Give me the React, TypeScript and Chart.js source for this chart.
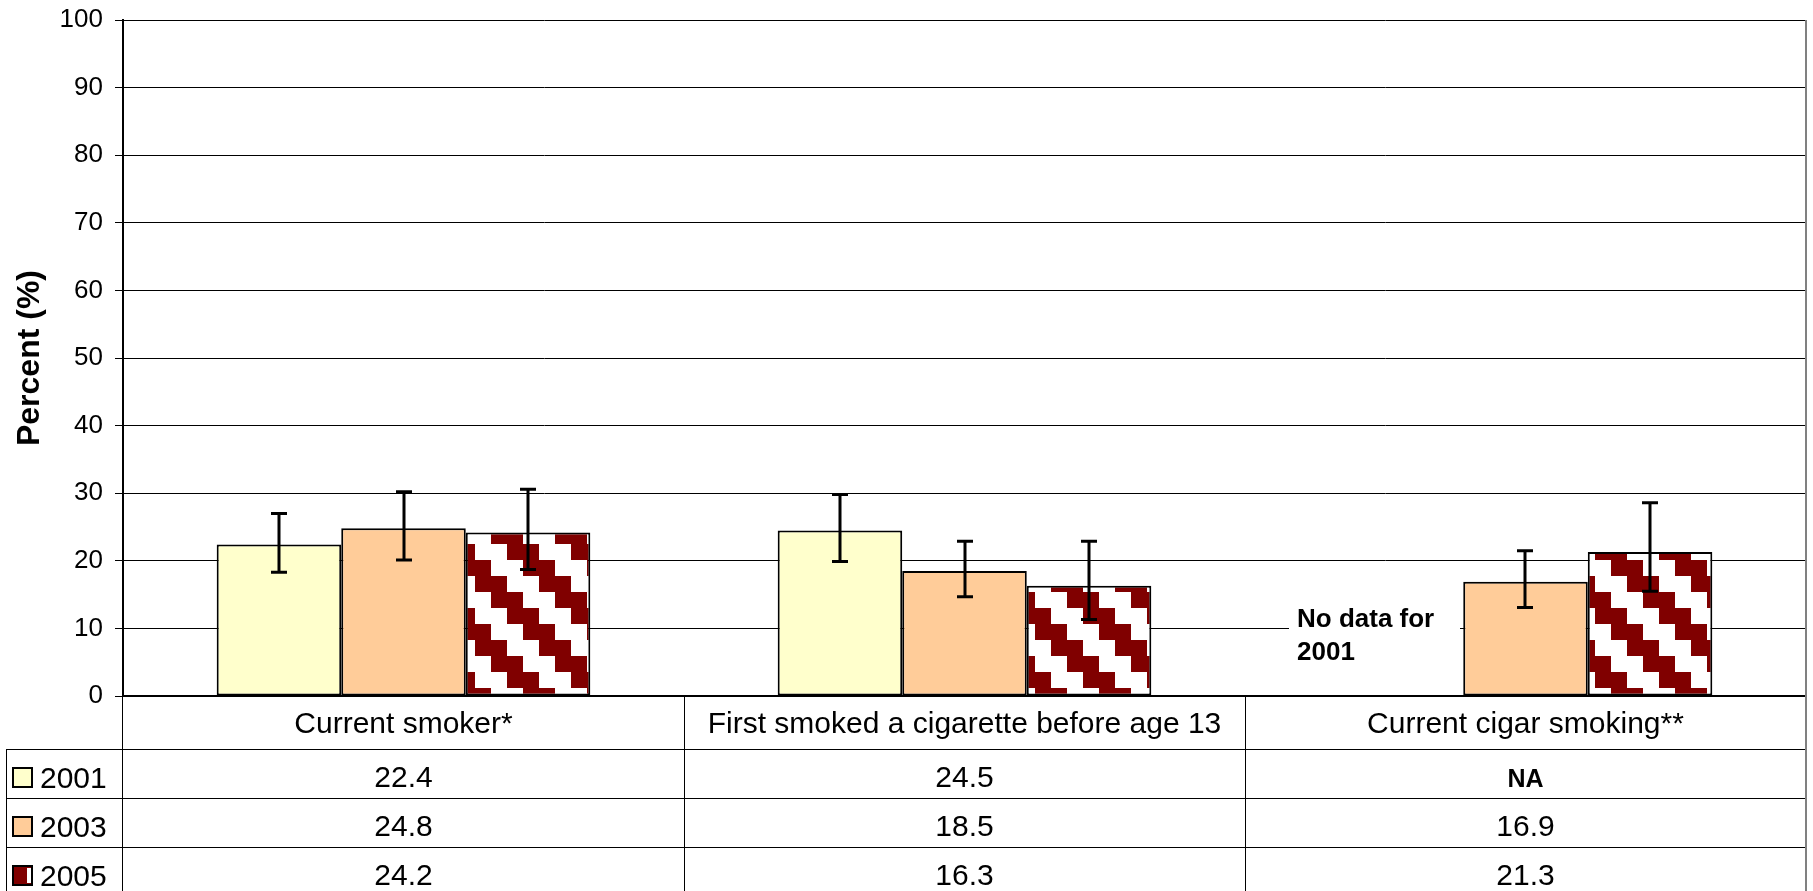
import React, { useEffect, useRef } from 'react';
import { Chart, registerables } from 'chart.js';

Chart.register(...registerables);

const FONT = 'Arial, "Liberation Sans", sans-serif';

const categories = ['Current smoker*', 'First smoked a cigarette before age 13', 'Current cigar smoking**'];
const seriesLabels = ['2001', '2003', '2005'];
const values2001: (number | null)[] = [22.4, 24.5, null];
const values2003: (number | null)[] = [24.8, 18.5, 16.9];
const values2005: (number | null)[] = [24.2, 16.3, 21.3];
const low2001: (number | null)[] = [18.3, 19.9, null];
const high2001: (number | null)[] = [27.0, 29.8, null];
const low2003: (number | null)[] = [20.1, 14.7, 13.1];
const high2003: (number | null)[] = [30.2, 22.9, 21.5];
const low2005: (number | null)[] = [18.7, 11.3, 15.5];
const high2005: (number | null)[] = [30.6, 22.9, 28.6];
const tableText2001 = ['22.4', '24.5', 'NA'];
const tableText2003 = ['24.8', '18.5', '16.9'];
const tableText2005 = ['24.2', '16.3', '21.3'];
const yTitle = 'Percent (%)';
const noDataNote = ['No data for', '2001'];
const yMin = 0;
const yMax = 100;
const yStep = 10;

const lows = [low2001, low2003, low2005];
const highs = [high2001, high2003, high2005];
const tableRows = [tableText2001, tableText2003, tableText2005];

function makePattern(): CanvasPattern | string {
  const c = document.createElement('canvas');
  c.width = 64;
  c.height = 64;
  const g = c.getContext('2d');
  if (!g) return '#800000';
  g.fillStyle = '#ffffff';
  g.fillRect(0, 0, 64, 64);
  g.fillStyle = '#800000';
  for (let r = 0; r < 4; r++) {
    const x0 = 16 * r;
    g.fillRect(x0, 16 * r, 32, 16);
    if (x0 + 32 > 64) g.fillRect(x0 - 64, 16 * r, 32, 16);
  }
  const p = g.createPattern(c, 'repeat');
  if (!p) return '#800000';
  try {
    p.setTransform(new DOMMatrix().translate(27, 0));
  } catch (e) {
    /* ignore */
  }
  return p;
}

export default function App() {
  const ref = useRef<HTMLCanvasElement | null>(null);

  useEffect(() => {
    document.body.style.margin = '0';
    const canvas = ref.current;
    if (!canvas) return;
    const pattern = makePattern();
    const fills: any[] = ['#FFFFCC', '#FFCC99', pattern];

    const extras = {
      id: 'extras',
      beforeDatasetsDraw(chart: any) {
        const { ctx, chartArea, scales } = chart;
        const xs = scales.x;
        const div = (xs.getPixelForValue(1) + xs.getPixelForValue(2)) / 2;
        ctx.save();
        ctx.fillStyle = '#ffffff';
        ctx.fillRect(div + 44, chartArea.bottom - 100, 171, 72);
        ctx.fillStyle = '#000000';
        ctx.font = `bold 26px ${FONT}`;
        ctx.textAlign = 'left';
        ctx.textBaseline = 'alphabetic';
        ctx.fillText(noDataNote[0], div + 52, chartArea.bottom - 69.5);
        ctx.fillText(noDataNote[1], div + 52, chartArea.bottom - 36);
        ctx.restore();
      },
      afterDatasetsDraw(chart: any) {
        const { ctx, scales } = chart;
        const ys = scales.y;
        ctx.save();
        ctx.strokeStyle = '#000000';
        ctx.lineWidth = 3;
        chart.data.datasets.forEach((ds: any, di: number) => {
          const meta = chart.getDatasetMeta(di);
          meta.data.forEach((el: any, i: number) => {
            const lo = lows[di][i];
            const hi = highs[di][i];
            if (lo == null || hi == null || ds.data[i] == null) return;
            const x = Math.round(el.x);
            const yT = ys.getPixelForValue(hi);
            const yB = ys.getPixelForValue(lo);
            ctx.beginPath();
            ctx.moveTo(x, yT);
            ctx.lineTo(x, yB);
            ctx.moveTo(x - 8, yT);
            ctx.lineTo(x + 8, yT);
            ctx.moveTo(x - 8, yB);
            ctx.lineTo(x + 8, yB);
            ctx.stroke();
          });
        });
        ctx.restore();
      },
      afterDraw(chart: any) {
        const { ctx, chartArea, scales, height } = chart;
        const xs = scales.x;
        const left = chartArea.left;
        const right = chartArea.right;
        const bottom = chartArea.bottom;
        const n = categories.length;
        const centers = categories.map((_, i) => xs.getPixelForValue(i));
        const dividers: number[] = [];
        for (let i = 0; i < n - 1; i++) dividers.push((centers[i] + centers[i + 1]) / 2);
        const rowTops = [bottom + 53, bottom + 102, bottom + 151];
        const legendLeft = 6;

        ctx.save();
        ctx.strokeStyle = '#000000';
        ctx.lineWidth = 1;
        ctx.beginPath();
        const vx = (x: number) => Math.round(x) + 0.5;
        ctx.moveTo(vx(left - 1), bottom);
        ctx.lineTo(vx(left - 1), height);
        dividers.forEach((d) => {
          ctx.moveTo(vx(d), bottom);
          ctx.lineTo(vx(d), height);
        });
        ctx.moveTo(vx(legendLeft), rowTops[0]);
        ctx.lineTo(vx(legendLeft), height);
        rowTops.forEach((t) => {
          ctx.moveTo(legendLeft, Math.round(t) + 0.5);
          ctx.lineTo(right, Math.round(t) + 0.5);
        });
        ctx.stroke();

        ctx.strokeStyle = '#808080';
        ctx.lineWidth = 2;
        ctx.beginPath();
        ctx.moveTo(Math.round(right), chartArea.top);
        ctx.lineTo(Math.round(right), height);
        ctx.stroke();

        ctx.fillStyle = '#000000';
        ctx.font = `30px ${FONT}`;
        ctx.textAlign = 'center';
        ctx.textBaseline = 'alphabetic';
        categories.forEach((c, i) => ctx.fillText(c, centers[i], bottom + 37));

        tableRows.forEach((row, ri) => {
          const t = rowTops[ri];
          const sx = 12;
          const sy = t + 18;
          const sw = 21;
          if (ri === 2) {
            ctx.fillStyle = '#800000';
            ctx.fillRect(sx, sy, sw, sw);
            ctx.fillStyle = '#ffffff';
            ctx.fillRect(sx + 15, sy + 3, 4, sw - 6);
          } else {
            ctx.fillStyle = fills[ri];
            ctx.fillRect(sx, sy, sw, sw);
          }
          ctx.strokeStyle = '#000000';
          ctx.lineWidth = 2;
          ctx.strokeRect(sx + 1, sy + 1, sw - 2, sw - 2);
          ctx.fillStyle = '#000000';
          ctx.font = `30px ${FONT}`;
          ctx.textAlign = 'left';
          ctx.fillText(seriesLabels[ri], 40, t + 38.5);
          ctx.textAlign = 'center';
          row.forEach((txt, ci) => {
            ctx.font = txt === 'NA' ? `bold 25px ${FONT}` : `30px ${FONT}`;
            ctx.fillText(txt, centers[ci], t + 37.5);
          });
        });
        ctx.restore();
      },
    };

    const chart = new Chart(canvas, {
      type: 'bar',
      data: {
        labels: categories,
        datasets: [
          { label: seriesLabels[0], data: values2001, backgroundColor: fills[0], borderColor: '#000000', borderWidth: 2, borderSkipped: false },
          { label: seriesLabels[1], data: values2003, backgroundColor: fills[1], borderColor: '#000000', borderWidth: 2, borderSkipped: false },
          { label: seriesLabels[2], data: values2005, backgroundColor: fills[2], borderColor: '#000000', borderWidth: 2, borderSkipped: false },
        ] as any,
      },
      options: {
        responsive: false,
        animation: false,
        maintainAspectRatio: false,
        layout: { padding: { left: 0, right: 7, top: 20, bottom: 195 } },
        datasets: { bar: { categoryPercentage: 0.666, barPercentage: 1.0 } } as any,
        plugins: { legend: { display: false }, tooltip: { enabled: false } },
        scales: {
          x: {
            type: 'category',
            offset: true,
            grid: { display: false },
            border: { display: true, color: '#000000', width: 2 },
            ticks: { display: false },
            afterFit: (s: any) => {
              s.height = 0;
              s.paddingLeft = 0;
              s.paddingRight = 0;
            },
          },
          y: {
            min: yMin,
            max: yMax,
            ticks: { stepSize: yStep, color: '#000000', font: { family: FONT, size: 26 }, padding: 12 },
            grid: { color: '#000000', lineWidth: 1, tickLength: 8, tickColor: '#000000' },
            border: { display: true, color: '#000000', width: 2 },
            title: {
              display: true,
              text: yTitle,
              color: '#000000',
              font: { family: FONT, size: 32, weight: 'bold' },
              padding: { top: 11, bottom: 0 },
            },
            afterFit: (s: any) => {
              s.width = 123;
              s.paddingTop = 0;
              s.paddingBottom = 0;
            },
          },
        },
      } as any,
      plugins: [extras],
    });
    return () => chart.destroy();
  }, []);

  return (
    <div style={{ width: 1813, height: 891 }}>
      <canvas ref={ref} width={1813} height={891} style={{ display: 'block' }} />
    </div>
  );
}
